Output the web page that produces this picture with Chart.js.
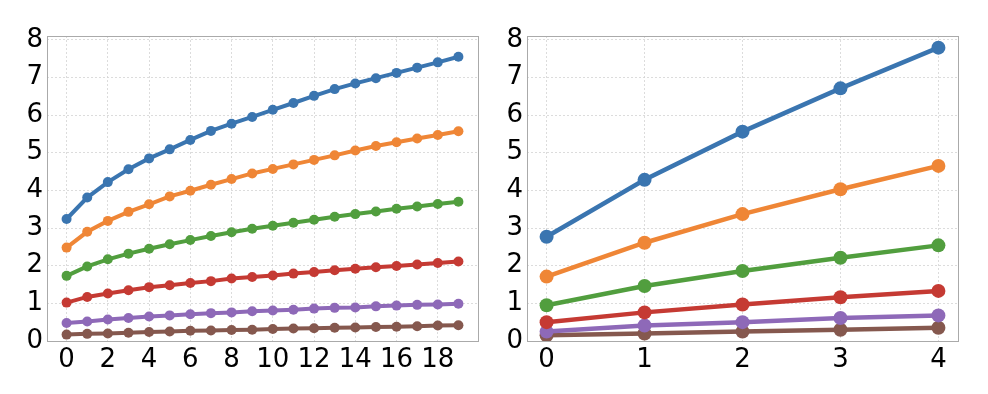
<!DOCTYPE html>
<html>
<head>
<meta charset="utf-8">
<script src="https://cdn.jsdelivr.net/npm/chart.js@4.4.0/dist/chart.umd.min.js"></script>
<style>
  body { margin: 0; background: #fff; }
  #wrap { position: relative; width: 988px; height: 394px; }
  .panel { position: absolute; top: 0; width: 494px; height: 394px; }
</style>
</head>
<body>
<div id="wrap">
  <div class="panel" style="left:0"><canvas id="leftChart"></canvas></div>
  <div class="panel" style="left:494px"><canvas id="rightChart"></canvas></div>
</div>
<script>
// left panel data (x = 0..19)
var leftX = [0,1,2,3,4,5,6,7,8,9,10,11,12,13,14,15,16,17,18,19];
var leftBlue   = [3.24,3.81,4.22,4.56,4.85,5.09,5.34,5.58,5.77,5.95,6.14,6.32,6.51,6.69,6.84,6.98,7.12,7.26,7.40,7.55];
var leftOrange = [2.48,2.90,3.19,3.43,3.63,3.84,3.99,4.15,4.30,4.45,4.57,4.69,4.81,4.93,5.06,5.18,5.28,5.38,5.47,5.57];
var leftGreen  = [1.73,1.98,2.17,2.32,2.45,2.57,2.68,2.79,2.89,2.98,3.06,3.14,3.22,3.30,3.37,3.44,3.51,3.57,3.64,3.70];
var leftRed    = [1.02,1.17,1.26,1.35,1.43,1.48,1.54,1.59,1.66,1.70,1.74,1.79,1.83,1.88,1.92,1.96,1.99,2.03,2.07,2.11];
var leftPurple = [0.48,0.52,0.57,0.61,0.65,0.68,0.71,0.74,0.76,0.79,0.81,0.83,0.86,0.88,0.89,0.92,0.94,0.96,0.97,0.99];
var leftBrown  = [0.17,0.19,0.20,0.22,0.24,0.25,0.27,0.28,0.29,0.30,0.32,0.33,0.34,0.35,0.36,0.37,0.38,0.39,0.41,0.42];

// right panel data (x = 0..4)
var rightX = [0,1,2,3,4];
var rightBlue   = [2.77,4.28,5.56,6.71,7.79];
var rightOrange = [1.71,2.61,3.37,4.03,4.65];
var rightGreen  = [0.95,1.46,1.86,2.21,2.54];
var rightRed    = [0.50,0.76,0.97,1.16,1.33];
var rightPurple = [0.25,0.41,0.50,0.61,0.68];
var rightBrown  = [0.15,0.20,0.25,0.30,0.35];

// tick labels
var leftXTicks = [0,2,4,6,8,10,12,14,16,18];
var rightXTicks = [0,1,2,3,4];
var yTicks = [0,1,2,3,4,5,6,7,8];

var colors = ['#3a75b0', '#ef8636', '#519e3e', '#c53a33', '#8e69b8', '#85584e'];

Chart.defaults.font.family = "'DejaVu Sans', sans-serif";
Chart.defaults.color = '#000';

// full box around the plot area
var boxPlugin = {
  id: 'box',
  afterDraw: function(chart) {
    var a = chart.chartArea, ctx = chart.ctx;
    ctx.save();
    ctx.strokeStyle = '#aaaaaa';
    ctx.lineWidth = 1;
    ctx.strokeRect(Math.round(a.left) + 0.5, Math.round(a.top) + 0.5, Math.round(a.right - a.left), Math.round(a.bottom - a.top));
    ctx.restore();
  }
};

function toPoints(xs, ys) {
  return xs.map(function(x, i) { return {x: x, y: ys[i]}; });
}

function makeDatasets(xs, series, lineW, radius) {
  return series.map(function(ys, i) {
    return {
      data: toPoints(xs, ys),
      borderColor: colors[i],
      backgroundColor: colors[i],
      borderWidth: lineW,
      pointRadius: radius,
      pointBorderWidth: 0,
      pointHoverRadius: radius,
      tension: 0,
      order: i
    };
  });
}

function createPanel(id, xs, series, xTicks, xMin, xMax, yWidth, padRight, lineW, radius) {
  var ctx = document.getElementById(id).getContext('2d');
  return new Chart(ctx, {
    type: 'line',
    data: { datasets: makeDatasets(xs, series, lineW, radius) },
    options: {
      responsive: true,
      maintainAspectRatio: false,
      animation: false,
      layout: { padding: { top: 36, right: padRight, left: 0, bottom: 0 } },
      plugins: { legend: { display: false }, tooltip: { enabled: false } },
      scales: {
        x: {
          type: 'linear',
          min: xMin,
          max: xMax,
          afterBuildTicks: function(s) { s.ticks = xTicks.map(function(v) { return {value: v}; }); },
          afterFit: function(s) { s.height = 53; },
          grid: { color: '#d4d4d4', lineWidth: 0.8, drawTicks: false },
          border: { display: false, dash: [2, 2] },
          ticks: { font: { size: 26 }, padding: 4, maxRotation: 0, autoSkip: false }
        },
        y: {
          min: 0,
          max: 8.1,
          afterBuildTicks: function(s) { s.ticks = yTicks.map(function(v) { return {value: v}; }); },
          afterFit: function(s) { s.width = yWidth; },
          grid: { color: '#d4d4d4', lineWidth: 0.8, drawTicks: false },
          border: { display: false, dash: [2, 2] },
          ticks: { font: { size: 26 }, padding: 4 }
        }
      }
    },
    plugins: [boxPlugin]
  });
}

createPanel('leftChart', leftX,
  [leftBlue, leftOrange, leftGreen, leftRed, leftPurple, leftBrown],
  leftXTicks, -0.95, 19.95, 47, 16, 4, 5);

createPanel('rightChart', rightX,
  [rightBlue, rightOrange, rightGreen, rightRed, rightPurple, rightBrown],
  rightXTicks, -0.2, 4.2, 33, 30, 4.5, 7);
</script>
</body>
</html>
